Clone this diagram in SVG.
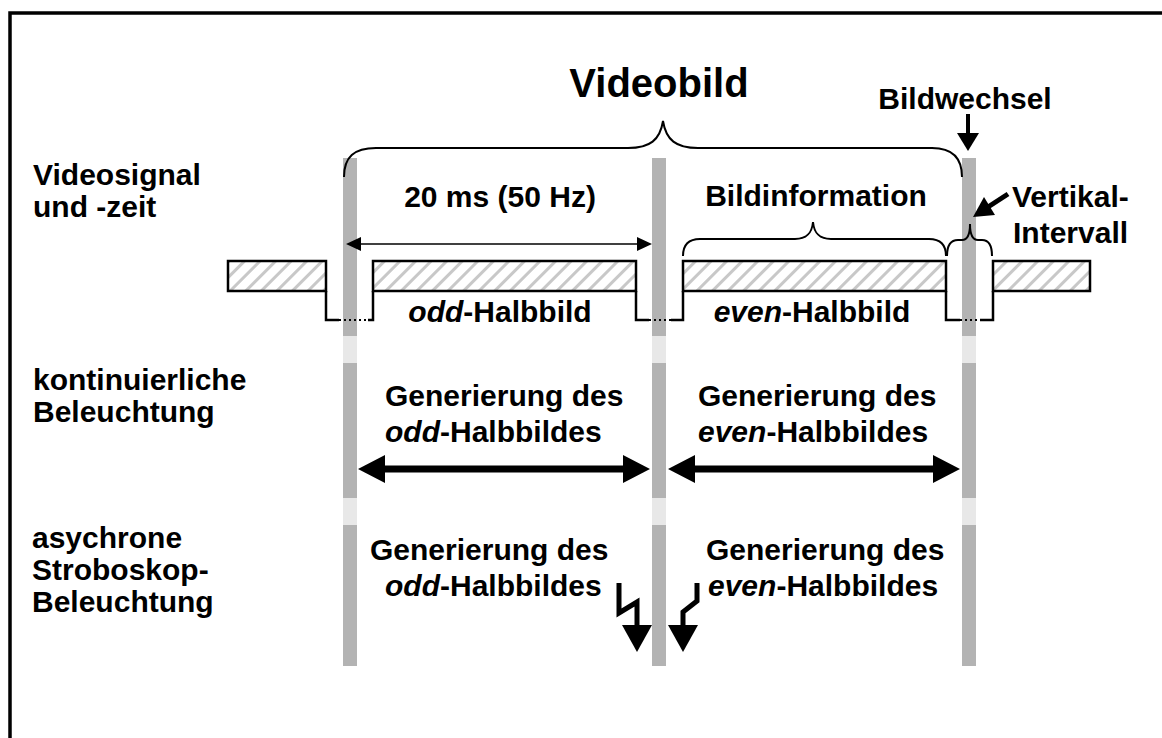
<svg xmlns="http://www.w3.org/2000/svg" width="1162" height="738" viewBox="0 0 1162 738">
<style>
text{font-family:"Liberation Sans",Arial,sans-serif;font-weight:bold;fill:#000;font-size:30px}
.mid{text-anchor:middle}
.it{font-style:italic}
.dk{fill:#b3b3b3}
.lt{fill:#e8e8e8}
.sig{fill:url(#hatch);stroke:#000;stroke-width:2.5}
.ln{fill:none;stroke:#000;stroke-width:2.5}
.dot{fill:none;stroke:#000;stroke-width:2;stroke-dasharray:2 3}
.br{fill:none;stroke:#000;stroke-width:2}
.blk{fill:#000}
.bolt{fill:none;stroke:#000;stroke-width:5;stroke-linejoin:miter}
</style>
<defs>
<pattern id="hatch" patternUnits="userSpaceOnUse" width="11" height="11" patternTransform="rotate(45)">
<rect width="11" height="11" fill="#fff"/>
<line x1="5.5" y1="0" x2="5.5" y2="11" stroke="#c8c8c8" stroke-width="3"/>
</pattern>
</defs>
<rect width="1162" height="738" fill="#fff"/>
<path d="M10,738 V13 H1162" fill="none" stroke="#000" stroke-width="3.5"/>

<g id="bars">
<g id="bar1">
<rect class="dk" x="343" y="158" width="14" height="178"/>
<rect class="lt" x="343" y="336" width="14" height="27"/>
<rect class="dk" x="343" y="363" width="14" height="135"/>
<rect class="lt" x="343" y="498" width="14" height="27"/>
<rect class="dk" x="343" y="525" width="14" height="141"/>
</g>
<g id="bar2">
<rect class="dk" x="652" y="158" width="14" height="178"/>
<rect class="lt" x="652" y="336" width="14" height="27"/>
<rect class="dk" x="652" y="363" width="14" height="135"/>
<rect class="lt" x="652" y="498" width="14" height="27"/>
<rect class="dk" x="652" y="525" width="14" height="141"/>
</g>
<g id="bar3">
<rect class="dk" x="962" y="158" width="14" height="178"/>
<rect class="lt" x="962" y="336" width="14" height="27"/>
<rect class="dk" x="962" y="363" width="14" height="135"/>
<rect class="lt" x="962" y="498" width="14" height="27"/>
<rect class="dk" x="962" y="525" width="14" height="141"/>
</g>
</g>

<g id="signal">
<rect class="sig" x="228" y="261" width="98" height="30"/>
<rect class="sig" x="373" y="261" width="263" height="30"/>
<rect class="sig" x="683" y="261" width="263" height="30"/>
<rect class="sig" x="993" y="261" width="97" height="30"/>
<path class="ln" d="M326,291 V320 H339 M368,320 H373 V291"/>
<path class="dot" d="M339,320 H368"/>
<path class="ln" d="M636,291 V320 H649 M671,320 H683 V291"/>
<path class="dot" d="M649,320 H671"/>
<path class="ln" d="M946,291 V320 H960 M980,320 H993 V291"/>
<path class="dot" d="M960,320 H980"/>
</g>

<g id="connectors">
<path id="brace-videobild" class="br" d="M344,177 C344,157 354,148 376,148 L628,148 C650,148 660,140 663,121 C666,140 676,148 698,148 L932,148 C952,148 962,157 962,177"/>
<path id="brace-bildinfo" class="br" d="M683,256 C683,245 688,239 700,239 L795,239 C808,239 812,232 813,222 C814,232 818,239 831,239 L929,239 C941,239 946,245 946,256"/>
<path id="brace-vertikal" class="br" d="M947,256 C947,246 950,240 958,240 L962,240 C968,240 970,234 970,224 C970,234 972,240 978,240 L982,240 C989,240 992,246 992,256"/>
<g id="arrow-20ms">
<line x1="358" y1="244" x2="640" y2="244" stroke="#000" stroke-width="1.5"/>
<polygon class="blk" points="346,244 361,237 361,251"/>
<polygon class="blk" points="652,244 637,237 637,251"/>
</g>
<g id="arrow-bildwechsel">
<rect class="blk" x="966" y="114" width="4" height="20"/>
<polygon class="blk" points="957,133 979,133 968,151"/>
</g>
<g id="arrow-vertikal">
<line x1="1008" y1="194" x2="988" y2="207" stroke="#000" stroke-width="5"/>
<polygon class="blk" points="973,217 995,215 984,197"/>
</g>
<path id="arrow-odd-cont" class="blk" d="M358,469 L385,455 L385,465.5 L623,465.5 L623,455 L650,469 L623,483 L623,472.5 L385,472.5 L385,483 Z"/>
<path id="arrow-even-cont" class="blk" d="M668,469 L695,455 L695,465.5 L933,465.5 L933,455 L960,469 L933,483 L933,472.5 L695,472.5 L695,483 Z"/>
<g id="bolt-odd">
<polyline class="bolt" points="619,583 619,613 637,602 637,627"/>
<polygon class="blk" points="622,625 652,625 637,652"/>
</g>
<g id="bolt-even">
<polyline class="bolt" points="697,583 697,601 683,612 683,627"/>
<polygon class="blk" points="668,625 698,625 683,652"/>
</g>
</g>

<g id="title"><text class="mid" x="659" y="97" style="font-size:40px">Videobild</text></g>
<g id="bildwechsel"><text class="mid" x="965" y="109">Bildwechsel</text></g>
<g id="label-videosignal"><text x="33" y="185">Videosignal</text><text x="33" y="217">und -zeit</text></g>
<g id="label-20ms"><text class="mid" x="500" y="207">20 ms (50 Hz)</text></g>
<g id="label-bildinfo"><text class="mid" x="816" y="206">Bildinformation</text></g>
<g id="label-vertikal"><text x="1012" y="207">Vertikal-</text><text x="1013" y="243">Intervall</text></g>
<g id="label-odd"><text class="mid" x="500" y="322"><tspan class="it">odd</tspan>-Halbbild</text></g>
<g id="label-even"><text class="mid" x="812" y="322"><tspan class="it">even</tspan>-Halbbild</text></g>
<g id="label-kont"><text x="33" y="390">kontinuierliche</text><text x="33" y="422">Beleuchtung</text></g>
<g id="gen-odd-cont"><text x="385" y="406">Generierung des</text><text x="385" y="442"><tspan class="it">odd</tspan>-Halbbildes</text></g>
<g id="gen-even-cont"><text x="698" y="406">Generierung des</text><text x="698" y="442"><tspan class="it">even</tspan>-Halbbildes</text></g>
<g id="label-strobo"><text x="32" y="548">asychrone</text><text x="32" y="580">Stroboskop-</text><text x="32" y="612">Beleuchtung</text></g>
<g id="gen-odd-strobo"><text x="370" y="560">Generierung des</text><text x="385" y="596"><tspan class="it">odd</tspan>-Halbbildes</text></g>
<g id="gen-even-strobo"><text x="706" y="560">Generierung des</text><text x="708" y="596"><tspan class="it">even</tspan>-Halbbildes</text></g>
</svg>
